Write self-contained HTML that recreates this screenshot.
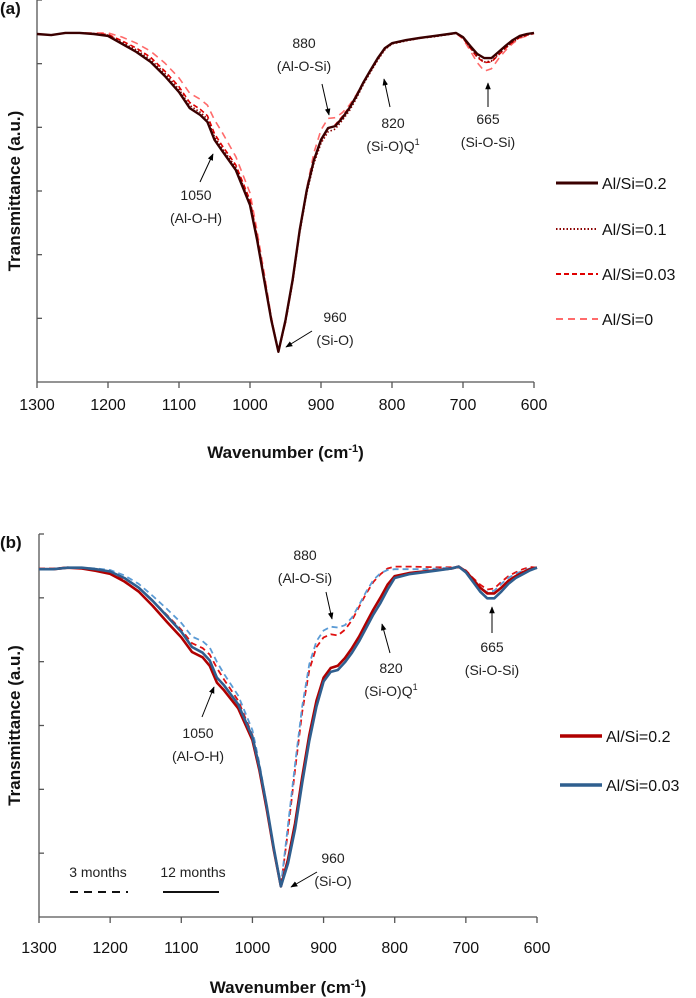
<!DOCTYPE html>
<html><head><meta charset="utf-8">
<style>
body{margin:0;background:#fff;width:696px;height:998px;overflow:hidden}
svg{display:block;font-family:"Liberation Sans",sans-serif}
.ann{font-size:14px;fill:#222}
.tick{font-size:16px;fill:#111}
</style></head>
<body>
<svg id="s" width="696" height="998">
<defs><marker id="ah" viewBox="0 0 10 10" refX="9" refY="5" markerWidth="7" markerHeight="7" orient="auto"><path d="M0,1 L10,5 L0,9 z" fill="#000"/></marker></defs>
</svg>
<script>
const wn=[1300,1280,1260,1240,1220,1200,1180,1160,1140,1120,1100,1085,1070,1060,1050,1040,1020,1000,990,980,970,960,950,940,930,920,910,900,890,880,870,860,850,840,830,820,810,800,780,760,740,720,710,700,690,680,670,660,650,640,630,620,610,600];
const xTicks=[1300,1200,1100,1000,900,800,700,600];
// panel (a)
const aS02=[91.1,90.8,91.4,91.4,91.1,90.6,88.5,86.4,83.8,80.1,75.9,71.7,69.9,68.1,63.4,60.7,55.5,46.3,37.2,26.7,16.2,7.9,16.2,26.7,39.8,50.3,58.1,63.4,66.5,67.0,69.1,71.7,74.9,78.5,81.7,84.8,87.4,88.7,89.5,90.1,90.6,91.1,91.4,90.3,88.0,85.9,84.8,84.8,86.4,88.0,89.5,90.6,91.1,91.4];
const aS01=[91.1,90.8,91.4,91.4,91.1,90.8,88.9,86.9,84.4,80.8,76.6,72.4,70.6,68.9,64.2,61.4,56.2,47.0,37.8,27.2,16.5,7.9,15.6,26.0,39.0,49.5,57.2,62.5,65.5,66.2,68.5,71.0,74.3,78.0,81.2,84.3,87.0,88.5,89.3,90.0,90.4,91.0,91.3,90.1,87.6,85.2,83.8,84.0,85.8,87.5,89.0,90.3,90.8,91.3];
const aS003=[91.1,90.8,91.4,91.4,91.2,91.0,89.3,87.4,85.0,81.4,77.3,73.2,71.4,69.7,65.0,62.1,56.8,47.6,38.3,27.5,16.8,7.9,15.8,26.3,39.4,50.0,57.8,63.0,66.3,67.3,69.5,72.0,75.0,78.4,81.5,84.5,87.2,88.6,89.4,90.0,90.5,91.0,91.3,90.0,87.5,85.0,83.6,83.8,85.6,87.4,89.0,90.2,90.8,91.3];
const aS0=[91.1,90.8,91.4,91.4,91.4,91.4,90.3,88.7,86.6,83.5,79.6,75.6,74.0,72.5,68.6,65.6,59.0,49.5,39.5,28.5,17.0,7.9,15.5,26.0,39.5,50.8,60.0,66.0,69.0,69.2,70.5,72.5,75.3,78.6,81.6,84.6,87.3,88.7,89.5,90.1,90.6,91.0,91.3,89.8,86.8,83.6,81.4,82.0,84.6,86.8,88.6,90.0,90.6,91.2];
// panel (b)
const bR12=[90.8,90.8,91.2,91.0,90.4,89.6,87.6,85.0,81.2,77.0,73.0,69.2,67.8,65.6,61.2,59.2,54.5,46.2,38.2,28.2,17.5,8.0,15.0,24.5,36.5,47.5,56.5,62.5,65.0,65.6,67.6,70.2,73.2,76.8,80.3,83.4,86.8,89.0,89.8,90.2,90.6,91.0,91.5,90.2,88.2,86.0,84.5,84.5,86.0,87.8,89.0,90.0,90.8,91.2];
const bB12=[90.8,90.8,91.2,91.2,90.8,90.2,88.5,86.0,82.5,78.5,74.5,70.5,69.0,67.0,62.5,60.5,55.5,47.0,39.0,29.0,18.0,8.0,14.0,23.0,35.0,46.0,55.0,61.5,64.0,64.5,66.5,69.0,72.0,75.5,79.0,82.0,85.5,88.5,89.5,90.0,90.5,91.0,91.5,90.0,87.5,85.0,83.2,83.2,85.0,87.0,88.5,89.5,90.5,91.2];
const bR3=[91.0,91.0,91.3,91.2,90.8,90.0,88.3,86.0,82.5,78.8,75.0,71.5,70.2,68.5,65.0,62.0,56.5,47.5,39.0,28.5,17.5,8.0,22.5,38.5,53.5,64.5,70.5,73.0,73.8,73.5,75.0,77.5,81.0,84.5,87.5,89.5,91.0,91.5,91.5,91.4,91.3,91.3,91.5,90.5,88.5,86.8,85.5,85.8,87.5,89.0,90.0,90.8,91.4,91.2];
const bB3=[90.8,90.8,91.2,91.2,91.0,90.6,89.2,87.0,83.8,80.4,76.8,73.2,72.0,70.4,66.6,63.5,57.8,48.8,40.0,29.2,18.0,8.2,24.0,40.0,55.0,66.0,72.0,74.8,75.8,75.6,76.2,78.2,81.5,85.0,88.0,89.8,90.6,90.8,90.8,90.8,91.0,91.2,91.5,90.4,88.0,86.0,84.8,85.2,87.0,88.6,89.6,90.4,91.0,91.2];

const S=document.getElementById('s');
const NS='http://www.w3.org/2000/svg';
function mk(tag,at,txt){const e=document.createElementNS(NS,tag);for(const k in at)e.setAttribute(k,at[k]);if(txt!==undefined)e.textContent=txt;S.appendChild(e);return e;}

function panel(P){
  const X=w=>P.x0+(1300-w)/700*(P.x1-P.x0);
  const Y=v=>P.y1-v/100*(P.y1-P.y0);
  let e;
  e=mk('line',{x1:P.x0,y1:P.y0,x2:P.x0,y2:P.y1,stroke:'#555','stroke-width':1.3});
  
  e=mk('line',{x1:P.x0,y1:P.y1,x2:P.x1,y2:P.y1,stroke:'#555','stroke-width':1.3});
  
  for(let i=0;i<6;i++){const yy=P.y0+i*(P.y1-P.y0)/6;
    e=mk('line',{x1:P.x0,y1:yy,x2:P.x0+5,y2:yy,stroke:'#555','stroke-width':1.3});
    }
  xTicks.forEach(t=>{
    e=mk('line',{x1:X(t),y1:P.y1,x2:X(t),y2:P.y1+6,stroke:'#555','stroke-width':1.3});
    
    e=mk('text',{x:X(t),y:P.y1+P.tl,'text-anchor':'middle',class:'tick'},t);
    
  });
  P.series.forEach(s=>{
    const d=wn.map((w,i)=>(i?'L':'M')+X(w).toFixed(1)+','+Y(s.v[i]).toFixed(1)).join(' ');
    e=mk('path',{d:d,fill:'none',stroke:s.c,'stroke-width':s.w,'stroke-dasharray':s.da||'','stroke-linejoin':'round'});
    
  });
  e=mk('text',{x:(P.x0+P.x1)/2,y:P.xt,'text-anchor':'middle','font-size':17,'font-weight':'bold',fill:'#111'},'Wavenumber (cm');
  
  const ts=document.createElementNS(NS,'tspan');ts.setAttribute('dy','-6');ts.setAttribute('font-size','11');ts.textContent='-1';e.appendChild(ts);
  const ts2=document.createElementNS(NS,'tspan');ts2.setAttribute('dy','6');ts2.textContent=')';e.appendChild(ts2);
  const cy=(P.y0+P.y1)/2;
  e=mk('text',{x:20,y:cy,'text-anchor':'middle','font-size':17,'font-weight':'bold',fill:'#111',transform:'rotate(-90 20 '+cy+')'},'Transmittance (a.u.)');
  
  e=mk('text',{x:0,y:P.y0+14,'font-size':17,'font-weight':'bold',fill:'#111'},P.label);
  
  P.ann.forEach(a=>{
    e=mk('text',{x:a.x,y:a.y,'text-anchor':'middle',class:'ann'},a.t1);
    
    e=mk('text',{x:a.x,y:a.y+23,'text-anchor':'middle',class:'ann'},a.t2);
    if(a.sup){const s=document.createElementNS(NS,'tspan');s.setAttribute('dy','-6');s.setAttribute('font-size','9');s.textContent='1';e.appendChild(s);}
    
    e=mk('line',{x1:a.a[0],y1:a.a[1],x2:a.a[2],y2:a.a[3],stroke:'#000','stroke-width':1,'marker-end':'url(#ah)'});
    
  });
  P.legend.forEach(l=>{
    e=mk('line',{x1:l.x,y1:l.y,x2:l.x+42,y2:l.y,stroke:l.c,'stroke-width':l.w,'stroke-dasharray':l.da||''});
    
    e=mk('text',{x:l.x+46,y:l.y+6,'font-size':16,fill:'#111'},l.t);
    
  });
}

panel({id:'a',label:'(a)',x0:37,x1:534,y0:0,y1:382,xt:458,tl:28,
 series:[
  {name:'series-alsi-0',v:aS0,c:'#ff6b6b',w:1.6,da:'7,5'},
  {name:'series-alsi-0.03',v:aS003,c:'#e00000',w:1.6,da:'5,3'},
  {name:'series-alsi-0.1',v:aS01,c:'#8b0000',w:1.6,da:'1.5,2'},
  {name:'series-alsi-0.2',v:aS02,c:'#3a0000',w:2.4}],
 ann:[{x:304,y:48,t1:'880',t2:'(Al-O-Si)',a:[322,84,329,115]},
      {x:393,y:128,t1:'820',t2:'(Si-O)Q',sup:1,a:[390,107,384,79]},
      {x:488,y:124,t1:'665',t2:'(Si-O-Si)',a:[488,107,488,83]},
      {x:196,y:200,t1:'1050',t2:'(Al-O-H)',a:[200,182,213,154]},
      {x:335,y:322,t1:'960',t2:'(Si-O)',a:[312,331,286,347]}],
 legend:[{x:556,y:183,c:'#3a0000',w:3,t:'Al/Si=0.2'},
         {x:556,y:229,c:'#8b0000',w:2,da:'1.5,2',t:'Al/Si=0.1'},
         {x:556,y:274,c:'#e00000',w:2,da:'5,3',t:'Al/Si=0.03'},
         {x:556,y:319,c:'#ff6b6b',w:2,da:'7,5',t:'Al/Si=0'}]
});

panel({id:'b',label:'(b)',x0:39,x1:537,y0:534,y1:917,xt:993,tl:36,
 series:[
  {name:'series-alsi-0.2-3months',v:bR3,c:'#e01010',w:1.8,da:'6,4'},
  {name:'series-alsi-0.03-3months',v:bB3,c:'#5b9bd5',w:1.8,da:'6,4'},
  {name:'series-alsi-0.2-12months',v:bR12,c:'#b00000',w:2.6},
  {name:'series-alsi-0.03-12months',v:bB12,c:'#2f5f8f',w:2.6}],
 ann:[{x:305,y:560,t1:'880',t2:'(Al-O-Si)',a:[326,592,332,619]},
      {x:391,y:673,t1:'820',t2:'(Si-O)Q',sup:1,a:[390,653,382,624]},
      {x:492,y:652,t1:'665',t2:'(Si-O-Si)',a:[492,633,492,607]},
      {x:198,y:738,t1:'1050',t2:'(Al-O-H)',a:[202,717,214,687]},
      {x:333,y:863,t1:'960',t2:'(Si-O)',a:[317,872,291,887]}],
 legend:[{x:560,y:736,c:'#b00000',w:3.5,t:'Al/Si=0.2'},
         {x:560,y:785,c:'#2f5f8f',w:3.5,t:'Al/Si=0.03'}]
});
let k;
k=mk('text',{x:98,y:877,'text-anchor':'middle',class:'ann'},'3 months');

k=mk('line',{x1:70,y1:892,x2:128,y2:892,stroke:'#111','stroke-width':2,'stroke-dasharray':'8,6'});

k=mk('text',{x:193,y:877,'text-anchor':'middle',class:'ann'},'12 months');

k=mk('line',{x1:163,y1:892,x2:219,y2:892,stroke:'#111','stroke-width':2});

</script>
</body></html>
